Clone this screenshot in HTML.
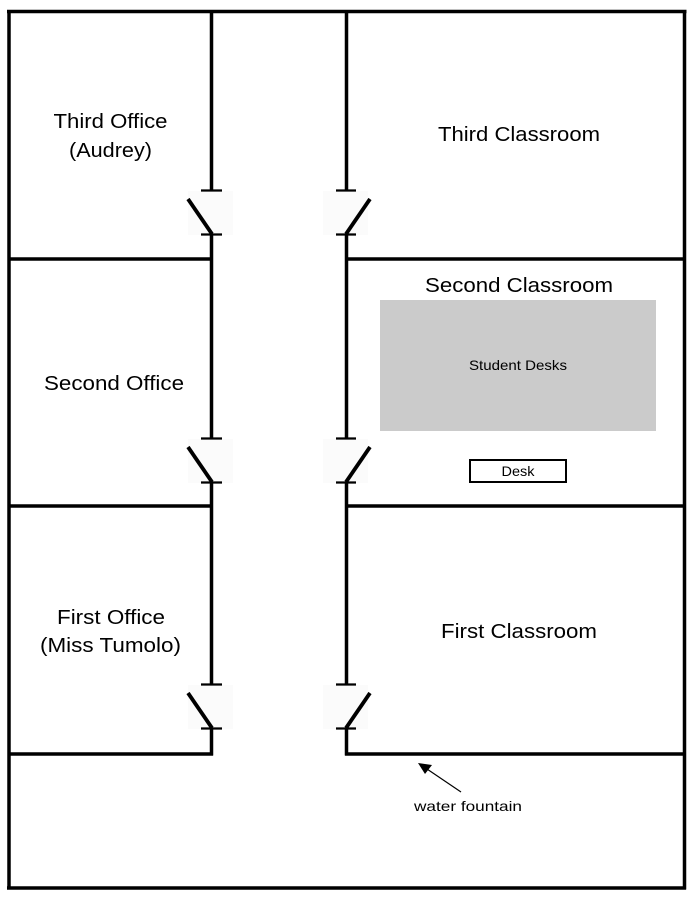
<!DOCTYPE html>
<html>
<head>
<meta charset="utf-8">
<style>
  html,body{margin:0;padding:0;background:#fff;}
  svg{display:block;}
  text{font-family:"Liberation Sans",Arial,sans-serif;fill:#000;}
</style>
</head>
<body>
<svg width="692" height="900" viewBox="0 0 692 900" xmlns="http://www.w3.org/2000/svg">
  <rect x="0" y="0" width="692" height="900" fill="#fff"/>

  <!-- faint door swing backgrounds -->
  <g fill="#fbfbfb">
    <rect x="188" y="191" width="45" height="44"/>
    <rect x="323" y="191" width="45" height="44"/>
    <rect x="188" y="439" width="45" height="44"/>
    <rect x="323" y="439" width="45" height="44"/>
    <rect x="188" y="685" width="45" height="44"/>
    <rect x="323" y="685" width="45" height="44"/>
  </g>

  <!-- student desks -->
  <rect x="380" y="300" width="276" height="131" fill="#cbcbcb"/>
  <!-- teacher desk -->
  <rect x="470" y="460" width="96" height="22" fill="#fff" stroke="#000" stroke-width="2"/>

  <g stroke="#000" stroke-width="3.5" fill="none" stroke-linecap="butt">
    <!-- outer frame -->
    <line x1="7" y1="11.5" x2="686.5" y2="11.5"/>
    <line x1="9" y1="10" x2="9" y2="889.5"/>
    <line x1="7" y1="888" x2="686" y2="888"/>
    <line x1="684.5" y1="10" x2="684.5" y2="889.5"/>

    <!-- horizontal walls -->
    <line x1="9" y1="259" x2="213" y2="259"/>
    <line x1="345" y1="259" x2="686" y2="259"/>
    <line x1="9" y1="506" x2="213" y2="506"/>
    <line x1="345" y1="506" x2="686" y2="506"/>
    <line x1="9" y1="754" x2="213" y2="754"/>
    <line x1="345" y1="754" x2="686" y2="754"/>

    <!-- left corridor wall -->
    <line x1="211.5" y1="10" x2="211.5" y2="190.5"/>
    <line x1="211.5" y1="234" x2="211.5" y2="438.5"/>
    <line x1="211.5" y1="482" x2="211.5" y2="684.5"/>
    <line x1="211.5" y1="728" x2="211.5" y2="755.5"/>

    <!-- right corridor wall -->
    <line x1="346.5" y1="10" x2="346.5" y2="190.5"/>
    <line x1="346.5" y1="234" x2="346.5" y2="438.5"/>
    <line x1="346.5" y1="482" x2="346.5" y2="684.5"/>
    <line x1="346.5" y1="728" x2="346.5" y2="755.5"/>
  </g>

  <!-- door ticks -->
  <g stroke="#000" stroke-width="2.2">
    <line x1="201" y1="190.5" x2="222" y2="190.5"/>
    <line x1="201" y1="234.5" x2="222" y2="234.5"/>
    <line x1="336" y1="190.5" x2="356" y2="190.5"/>
    <line x1="336" y1="234.5" x2="356" y2="234.5"/>

    <line x1="201" y1="438.5" x2="222" y2="438.5"/>
    <line x1="201" y1="482.5" x2="222" y2="482.5"/>
    <line x1="336" y1="438.5" x2="356" y2="438.5"/>
    <line x1="336" y1="482.5" x2="356" y2="482.5"/>

    <line x1="201" y1="684.5" x2="222" y2="684.5"/>
    <line x1="201" y1="728.5" x2="222" y2="728.5"/>
    <line x1="336" y1="684.5" x2="356" y2="684.5"/>
    <line x1="336" y1="728.5" x2="356" y2="728.5"/>
  </g>

  <!-- door leaves -->
  <g stroke="#000" stroke-width="3.8" stroke-linecap="butt">
    <line x1="188" y1="199" x2="212" y2="234"/>
    <line x1="370" y1="199" x2="346" y2="234"/>
    <line x1="188" y1="447" x2="212" y2="482"/>
    <line x1="370" y1="447" x2="346" y2="482"/>
    <line x1="188" y1="693" x2="212" y2="728"/>
    <line x1="370" y1="693" x2="346" y2="728"/>
  </g>

  <!-- water fountain arrow -->
  <line x1="461" y1="792" x2="427" y2="769" stroke="#000" stroke-width="1.2"/>
  <polygon points="418,763 432,765 425,774" fill="#000"/>

  <!-- labels -->
  <g font-size="20" text-anchor="middle">
    <text x="110.5" y="128" textLength="114" lengthAdjust="spacingAndGlyphs">Third Office</text>
    <text x="110.5" y="157" textLength="83" lengthAdjust="spacingAndGlyphs">(Audrey)</text>
    <text x="519" y="141" textLength="162" lengthAdjust="spacingAndGlyphs">Third Classroom</text>
    <text x="519" y="292" textLength="188" lengthAdjust="spacingAndGlyphs">Second Classroom</text>
    <text x="114" y="390" textLength="140" lengthAdjust="spacingAndGlyphs">Second Office</text>
    <text x="111" y="624" textLength="108" lengthAdjust="spacingAndGlyphs">First Office</text>
    <text x="110.5" y="652" textLength="141" lengthAdjust="spacingAndGlyphs">(Miss Tumolo)</text>
    <text x="519" y="638" textLength="156" lengthAdjust="spacingAndGlyphs">First Classroom</text>
  </g>
  <g font-size="14" text-anchor="middle">
    <text x="518" y="370" textLength="98" lengthAdjust="spacingAndGlyphs">Student Desks</text>
    <text x="518" y="476" textLength="33" lengthAdjust="spacingAndGlyphs">Desk</text>
    <text x="468" y="811" textLength="108" lengthAdjust="spacingAndGlyphs">water fountain</text>
  </g>
</svg>
</body>
</html>
